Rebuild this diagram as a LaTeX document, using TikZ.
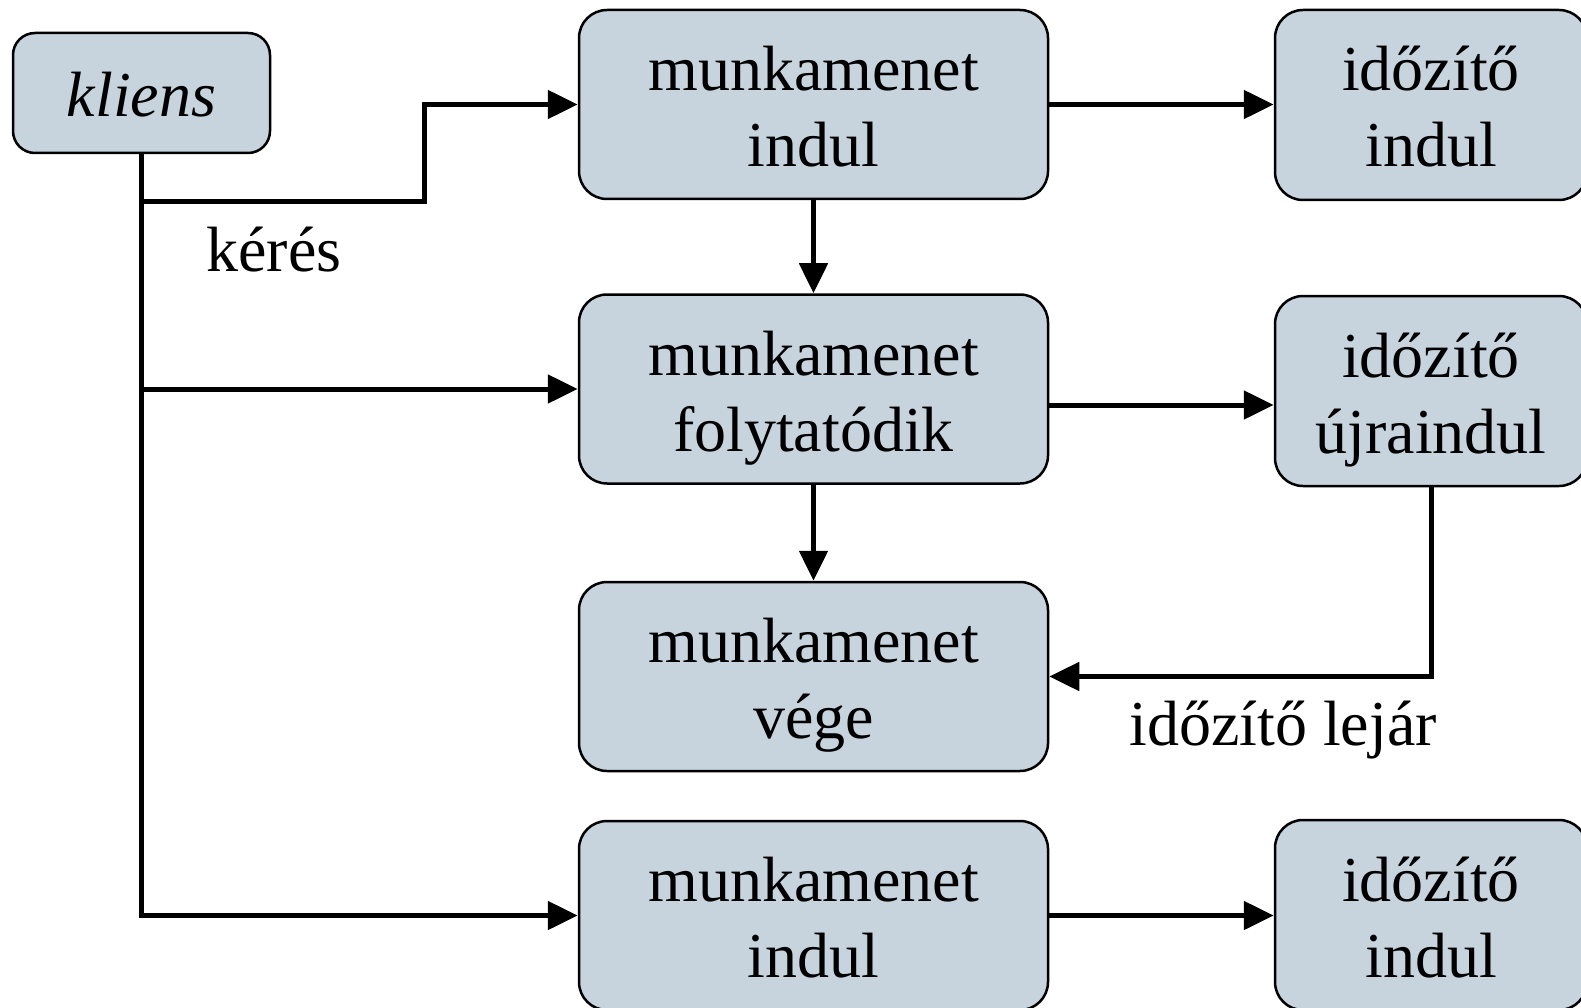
\documentclass[tikz,border=0pt]{standalone}
\usepackage{fontspec}
\setmainfont{Liberation Serif}
\usetikzlibrary{arrows.meta}
\definecolor{boxfill}{RGB}{199,212,221}
\newcommand\mystrut{\rule[-14pt]{0pt}{76pt}}
\begin{document}
\begin{tikzpicture}[x=1pt,y=-1pt,
  box/.style={draw=black, line width=2.5pt, fill=boxfill, rounded corners=28pt,
    align=center, inner sep=0pt, font=\fontsize{64}{76}\selectfont},
  mbox/.style={box, minimum width=469pt, minimum height=189pt},
  tbox/.style={box, minimum width=312pt, minimum height=190pt},
  conn/.style={line width=5pt, -{Triangle[length=30pt,width=28pt]}},
  lbl/.style={font=\fontsize{64}{76}\selectfont, inner sep=0pt}]
\useasboundingbox (0,0) rectangle (1581,1008);
\clip (0,0) rectangle (1581,1008);
% nodes
\node[box, rounded corners=22pt, minimum width=257pt, minimum height=120pt,
  font=\fontsize{64}{76}\selectfont\itshape] (k) at (141.5,93) {\mystrut kliens};
\node[mbox] (m1) at (813.5,104.5) {\mystrut munkamenet\\\mystrut indul};
\node[mbox] (m2) at (813.5,389) {\mystrut munkamenet\\\mystrut folytatódik};
\node[mbox] (m3) at (813.5,676.5) {\mystrut munkamenet\\\mystrut vége};
\node[mbox] (m4) at (813.5,915.5) {\mystrut munkamenet\\\mystrut indul};
\node[tbox] (t1) at (1431,105) {\mystrut időzítő\\\mystrut indul};
\node[tbox] (t2) at (1431,391) {\mystrut időzítő\\\mystrut újraindul};
\node[tbox] (t4) at (1431,915) {\mystrut időzítő\\\mystrut indul};
\node[lbl] (kl) at (274,250) {kérés};
\node[lbl] (tl) at (1283,730) {időzítő lejár};
% connectors
\coordinate (b1) at (141.5,202);
\coordinate (j1) at (424,202);
\draw[conn] (k.south) |- (m4.west);
\draw[conn] (b1) -- (j1) |- (m1.west);
\draw[conn] (k.south |- m2.west) -- (m2.west);
\draw[conn] (m1.east) -- (m1.east -| t1.west);
\draw[conn] ([yshift=-16pt]m2.east) -- ([yshift=-16pt]m2.east -| t2.west);
\draw[conn] (m4.east) -- (m4.east -| t4.west);
\draw[conn] (m1.south) -- (m2.north);
\draw[conn] (m2.south) -- (m3.north);
\draw[conn] (t2.south) |- (m3.east);
\end{tikzpicture}
\end{document}
